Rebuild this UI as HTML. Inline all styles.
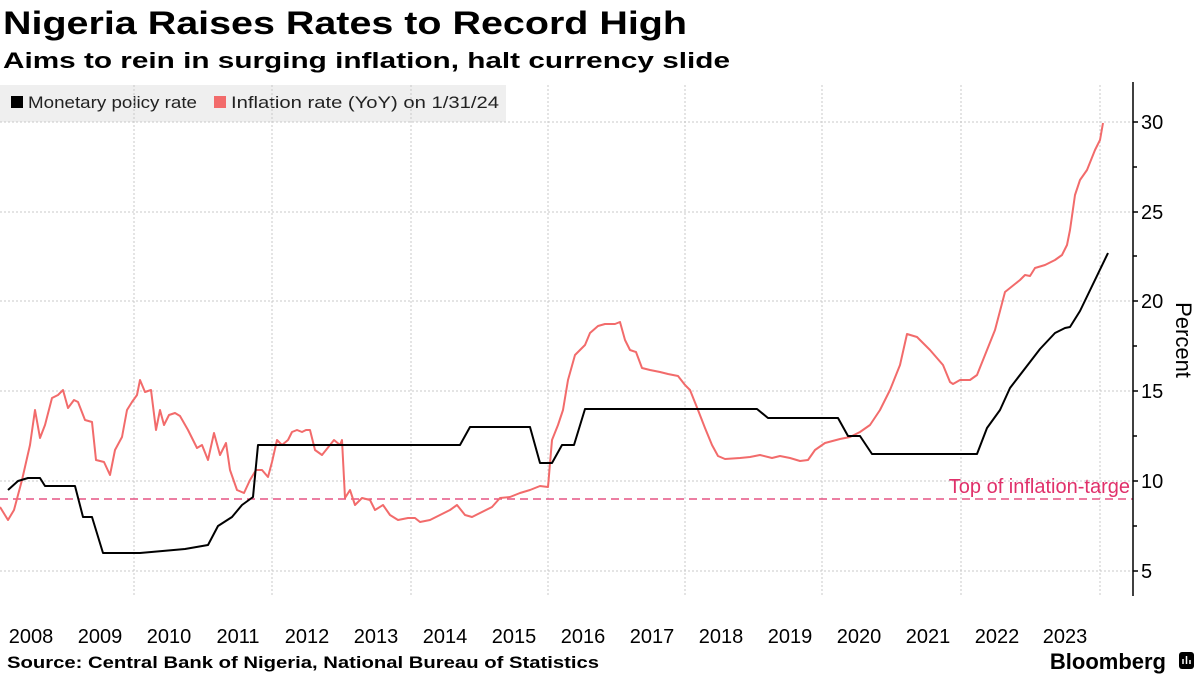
<!DOCTYPE html>
<html><head><meta charset="utf-8"><style>
body{margin:0;width:1200px;height:675px;background:#fff;font-family:"Liberation Sans",sans-serif;overflow:hidden}
</style></head><body>
<svg width="1200" height="675" xmlns="http://www.w3.org/2000/svg" font-family="Liberation Sans, sans-serif">
<text x="3" y="34" font-size="32" font-weight="bold" fill="#000" textLength="684" lengthAdjust="spacingAndGlyphs">Nigeria Raises Rates to Record High</text>
<text x="3" y="68" font-size="22" font-weight="bold" fill="#000" textLength="727" lengthAdjust="spacingAndGlyphs">Aims to rein in surging inflation, halt currency slide</text>
<rect x="0" y="85" width="506" height="37" fill="#efefef"/>
<rect x="11" y="96" width="12" height="12" fill="#000"/>
<text x="28" y="108" font-size="17" fill="#222" textLength="169" lengthAdjust="spacingAndGlyphs">Monetary policy rate</text>
<rect x="214" y="96" width="12" height="12" fill="#f26b6b"/>
<text x="231" y="108" font-size="17" fill="#222" textLength="268" lengthAdjust="spacingAndGlyphs">Inflation rate (YoY) on 1/31/24</text>
<g stroke="#c8c8c8" stroke-width="1" stroke-dasharray="2,2">
<line x1="0" y1="122" x2="1133" y2="122"/><line x1="0" y1="212" x2="1133" y2="212"/><line x1="0" y1="301" x2="1133" y2="301"/><line x1="0" y1="391" x2="1133" y2="391"/><line x1="0" y1="481" x2="1133" y2="481"/><line x1="0" y1="571" x2="1133" y2="571"/>
<line x1="134" y1="85" x2="134" y2="595"/><line x1="272" y1="85" x2="272" y2="595"/><line x1="411" y1="85" x2="411" y2="595"/><line x1="548" y1="85" x2="548" y2="595"/><line x1="685" y1="85" x2="685" y2="595"/><line x1="822" y1="85" x2="822" y2="595"/><line x1="961" y1="85" x2="961" y2="595"/><line x1="1100" y1="85" x2="1100" y2="595"/>
</g>
<line x1="0" y1="499" x2="1133" y2="499" stroke="#e0306a" stroke-width="1.2" stroke-dasharray="8,5"/>
<text x="1130" y="493" font-size="20" fill="#e0306a" text-anchor="end">Top of inflation-targe</text>
<line x1="1133" y1="82" x2="1133" y2="596" stroke="#000" stroke-width="1.5"/>
<g stroke="#000" stroke-width="1.5">
<line x1="1133" y1="122" x2="1138" y2="122"/><line x1="1133" y1="167" x2="1137" y2="167"/><line x1="1133" y1="212" x2="1138" y2="212"/><line x1="1133" y1="256" x2="1137" y2="256"/><line x1="1133" y1="301" x2="1138" y2="301"/><line x1="1133" y1="346" x2="1137" y2="346"/><line x1="1133" y1="391" x2="1138" y2="391"/><line x1="1133" y1="436" x2="1137" y2="436"/><line x1="1133" y1="481" x2="1138" y2="481"/><line x1="1133" y1="526" x2="1137" y2="526"/><line x1="1133" y1="571" x2="1138" y2="571"/>
</g>
<g font-size="20" fill="#000">
<text x="1141" y="129">30</text><text x="1141" y="219">25</text><text x="1141" y="308">20</text><text x="1141" y="398">15</text><text x="1141" y="488">10</text><text x="1141" y="578">5</text>
</g>
<text transform="translate(1176,340) rotate(90)" font-size="22" fill="#000" text-anchor="middle">Percent</text>
<g font-size="20" fill="#000" text-anchor="middle">
<text x="31" y="643">2008</text><text x="100" y="643">2009</text><text x="169" y="643">2010</text><text x="238" y="643">2011</text><text x="307" y="643">2012</text><text x="376" y="643">2013</text><text x="445" y="643">2014</text><text x="514" y="643">2015</text><text x="583" y="643">2016</text><text x="652" y="643">2017</text><text x="721" y="643">2018</text><text x="790" y="643">2019</text><text x="859" y="643">2020</text><text x="928" y="643">2021</text><text x="997" y="643">2022</text><text x="1065" y="643">2023</text>
</g>
<text x="7" y="668" font-size="17" font-weight="bold" fill="#000" textLength="592" lengthAdjust="spacingAndGlyphs">Source: Central Bank of Nigeria, National Bureau of Statistics</text>
<text x="1166" y="669" font-size="22" font-weight="bold" fill="#000" text-anchor="end">Bloomberg</text>
<rect x="1179" y="652" width="15" height="17" rx="3" fill="#000"/>
<g stroke="#fff" stroke-width="1.5"><line x1="1183" y1="664" x2="1183" y2="659"/><line x1="1186.5" y1="664" x2="1186.5" y2="656"/><line x1="1190" y1="664" x2="1190" y2="660"/></g>
<polyline fill="none" stroke="#f26b6b" stroke-width="2" stroke-linejoin="round" points="0,507 8,520 14,510 22,480 30,445 35,410 40,438 45,425 52,398 58,395 63,390 68,408 74,400 78,402 85,420 92,422 96,460 104,462 110,475 115,450 122,437 127,410 132,402 137,395 140,380 145,392 151,390 156,430 160,410 164,425 169,415 175,413 180,416 188,430 197,448 202,445 208,460 214,433 220,455 226,443 230,470 237,490 244,493 250,480 256,470 262,470 268,477 272,462 277,440 282,445 288,440 292,432 297,430 302,432 306,430 310,430 315,450 322,455 330,445 334,440 340,445 342,440 345,498 350,490 355,505 362,498 370,500 375,510 383,505 390,515 398,520 408,518 415,518 420,522 430,520 440,515 450,510 457,505 465,515 472,517 480,513 492,507 500,498 510,497 520,493 530,490 540,486 548,487 552,440 558,425 563,410 568,380 575,355 585,345 590,333 598,326 605,324 615,324 620,322 625,340 630,350 636,352 642,368 650,370 660,372 668,374 678,376 685,385 690,390 698,410 705,428 712,445 718,456 725,459 740,458 750,457 760,455 772,458 780,456 790,458 800,461 808,460 815,450 825,443 840,439 850,437 860,432 870,425 880,410 890,390 900,365 907,334 917,337 930,350 943,365 950,382 953,384 960,380 970,380 977,375 985,355 995,330 1005,292 1020,280 1025,275 1030,276 1035,268 1045,265 1055,260 1062,255 1067,245 1070,230 1075,195 1080,180 1087,170 1095,150 1100,140 1103,123"/>
<polyline fill="none" stroke="#000" stroke-width="2" stroke-linejoin="round" points="8,490 18,481 28,478 40,478 45,486 75,486 83,517 92,517 103,553 140,553 185,549 208,545 218,526 232,517 242,505 253,497 258,445 460,445 470,427 530,427 540,463 552,463 562,445 574,445 585,409 757,409 768,418 838,418 848,436 860,436 872,454 977,454 987,428 1000,410 1010,388 1030,362 1040,349 1055,333 1065,328 1070,327 1080,311 1108,253"/>
</svg>
</body></html>
